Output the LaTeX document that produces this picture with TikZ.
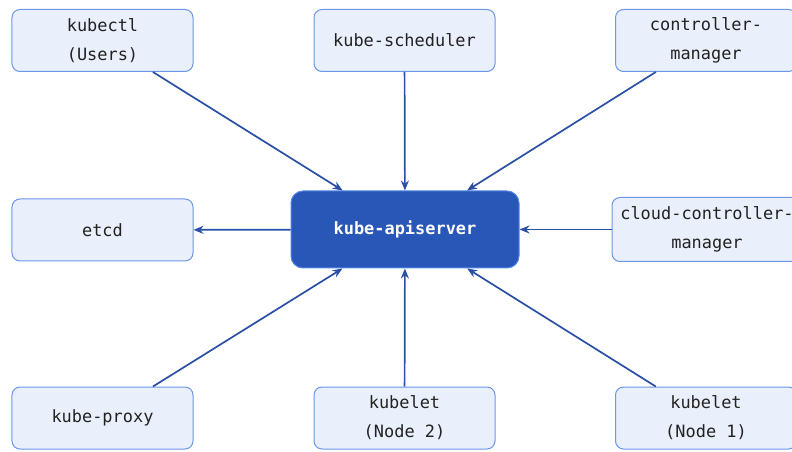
\documentclass[tikz,border=0pt]{standalone}
\usepackage{fontspec}
\setmonofont{DejaVu Sans Mono}
\usepackage{xcolor}
\usetikzlibrary{arrows.meta,positioning}
\definecolor{boxfill}{HTML}{E9EFFB}
\definecolor{boxline}{HTML}{6A97EA}
\definecolor{apifill}{HTML}{2957B7}
\definecolor{apiline}{HTML}{5286E6}
\definecolor{arr}{HTML}{2A4FA4}
\definecolor{txt}{HTML}{222222}
\tikzset{
  comp/.style  ={draw=boxline,fill=boxfill,rounded corners=8bp,line width=1bp,
                 minimum width=181bp,minimum height=62bp,align=center,text=txt,
                 font=\ttfamily\fontsize{17}{29}\selectfont},
  api/.style   ={draw=apiline,fill=apifill,rounded corners=12bp,line width=1bp,
                 minimum width=228bp,minimum height=77bp,text=white,
                 font=\ttfamily\bfseries\fontsize{17}{29}\selectfont},
  flow/.style  ={-{Stealth[length=10bp,width=8bp]},line width=1.7bp,arr},
}
\begin{document}
\begin{tikzpicture}[x=1bp,y=-1bp]
  \useasboundingbox (0,0) rectangle (792,452);
  \node[api] (apisrv) at (405,229.5) {kube-apiserver};
  % top row
  \node[comp] (kubectl) at (102.5,40.5) {kubectl\\(Users)};
  \node[comp] (sched) at (404.5,40.5) {kube-scheduler};
  \node[comp] (ctrl) at (706,40.5) {controller-\\manager};
  % middle row
  \node[comp] (etcd) at (102.5,230) {etcd};
  \node[comp,minimum width=190bp,minimum height=64bp] (cloud) at (707,229.5) {cloud-controller-\\manager};
  % bottom row
  \node[comp] (proxy) at (102.5,418) {kube-proxy};
  \node[comp] (let2) at (404.5,418) {kubelet\\(Node 2)};
  \node[comp] (let1) at (706,418) {kubelet\\(Node 1)};
  % connectors
  \draw[flow] (kubectl) -- (apisrv);
  \draw[flow] (sched) -- (apisrv);
  \draw[flow] (ctrl) -- (apisrv);
  \draw[flow] (apisrv) -- (etcd);
  \draw[flow] (cloud) -- (apisrv);
  \draw[flow] (proxy) -- (apisrv);
  \draw[flow] (let2) -- (apisrv);
  \draw[flow] (let1) -- (apisrv);
\end{tikzpicture}
\end{document}
